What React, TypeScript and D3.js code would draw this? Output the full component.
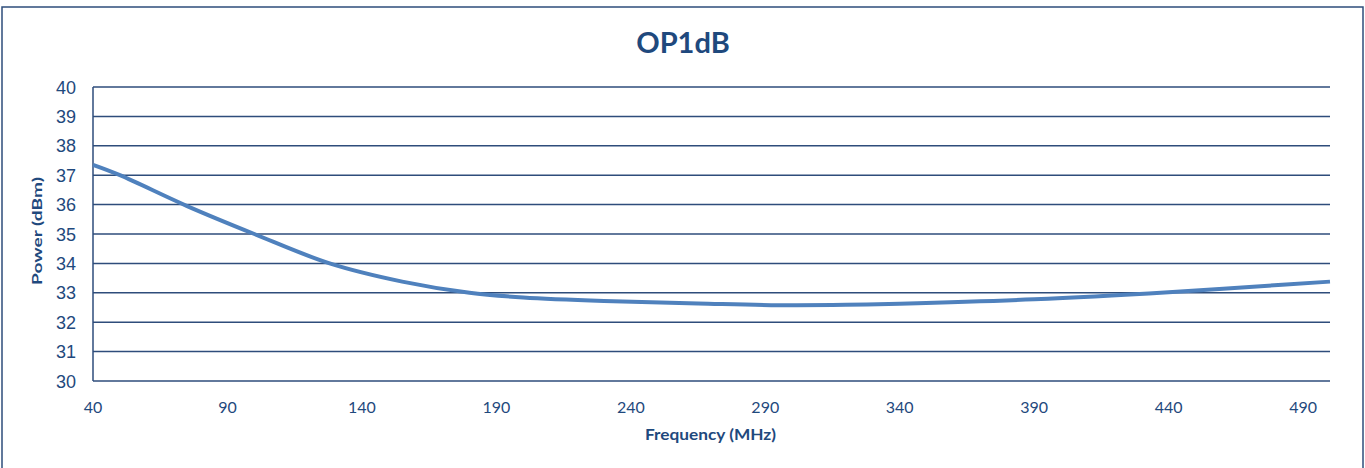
import React from "react";
import * as d3 from "d3";

const freqs = [40, 50, 75, 100, 128, 155, 180, 200, 230, 265, 295, 320, 340, 390, 440, 470, 500];
const power = [37.35, 37.0, 35.95, 35.0, 34.0, 33.38, 33.0, 32.84, 32.72, 32.64, 32.58, 32.59, 32.63, 32.78, 33.02, 33.2, 33.38];
const xTicks = [40, 90, 140, 190, 240, 290, 340, 390, 440, 490];
const yTicks = [30, 31, 32, 33, 34, 35, 36, 37, 38, 39, 40];

const W = 1365, H = 468;
const M = { left: 93, right: 1330, top: 87, bottom: 381 };
const navy = "#1F497D";
const grid = "#2E4D7B";

export default function App() {
  const x = d3.scaleLinear().domain([40, 500]).range([M.left, M.right]);
  const y = d3.scaleLinear().domain([30, 40]).range([M.bottom, M.top]);
  const data = freqs.map((f, i) => [f, power[i]] as [number, number]);
  const line = d3.line<[number, number]>().x(d => x(d[0])).y(d => y(d[1])).curve(d3.curveCatmullRom.alpha(0.5));
  return (
    <svg width={W} height={H} style={{ position: "absolute", left: 0, top: 0, background: "#fff" }}>
      <rect x={2} y={7} width={1361} height={475} fill="#fff" stroke={grid} strokeWidth={1.5} />
      <text x={683} y={53} textAnchor="middle" fontFamily="Lato, 'Open Sans', sans-serif" fontWeight="bold" fontSize={29} fill={navy}>OP1dB</text>
      {yTicks.map(t => (
        <g key={t}>
          <line x1={M.left} x2={M.right} y1={y(t)} y2={y(t)} stroke={grid} strokeWidth={1.5} />
          <text x={76} y={y(t) + 6.5} textAnchor="end" fontFamily="'Liberation Sans', Arial, sans-serif" fontSize={18} fill={navy}>{t}</text>
        </g>
      ))}
      <line x1={M.left} x2={M.left} y1={M.top} y2={M.bottom} stroke={grid} strokeWidth={1.5} />
      {xTicks.map(t => (
        <text key={t} x={x(t)} y={413} textAnchor="middle" fontFamily="Lato, 'Open Sans', sans-serif" fontSize={16} fill={navy}>{t}</text>
      ))}
      <text x={710.5} y={440} textAnchor="middle" fontFamily="Lato, 'Open Sans', sans-serif" fontWeight="bold" fontSize={15.5} fill={navy} textLength={131} lengthAdjust="spacingAndGlyphs">Frequency (MHz)</text>
      <text transform="translate(42,231) rotate(-90)" textAnchor="middle" fontFamily="Lato, 'Open Sans', sans-serif" fontWeight="bold" fontSize={13.5} fill={navy} textLength={108} lengthAdjust="spacingAndGlyphs">Power (dBm)</text>
      <path d={line(data) || ""} fill="none" stroke="#4F81BD" strokeWidth={4} strokeLinecap="butt" />
    </svg>
  );
}
